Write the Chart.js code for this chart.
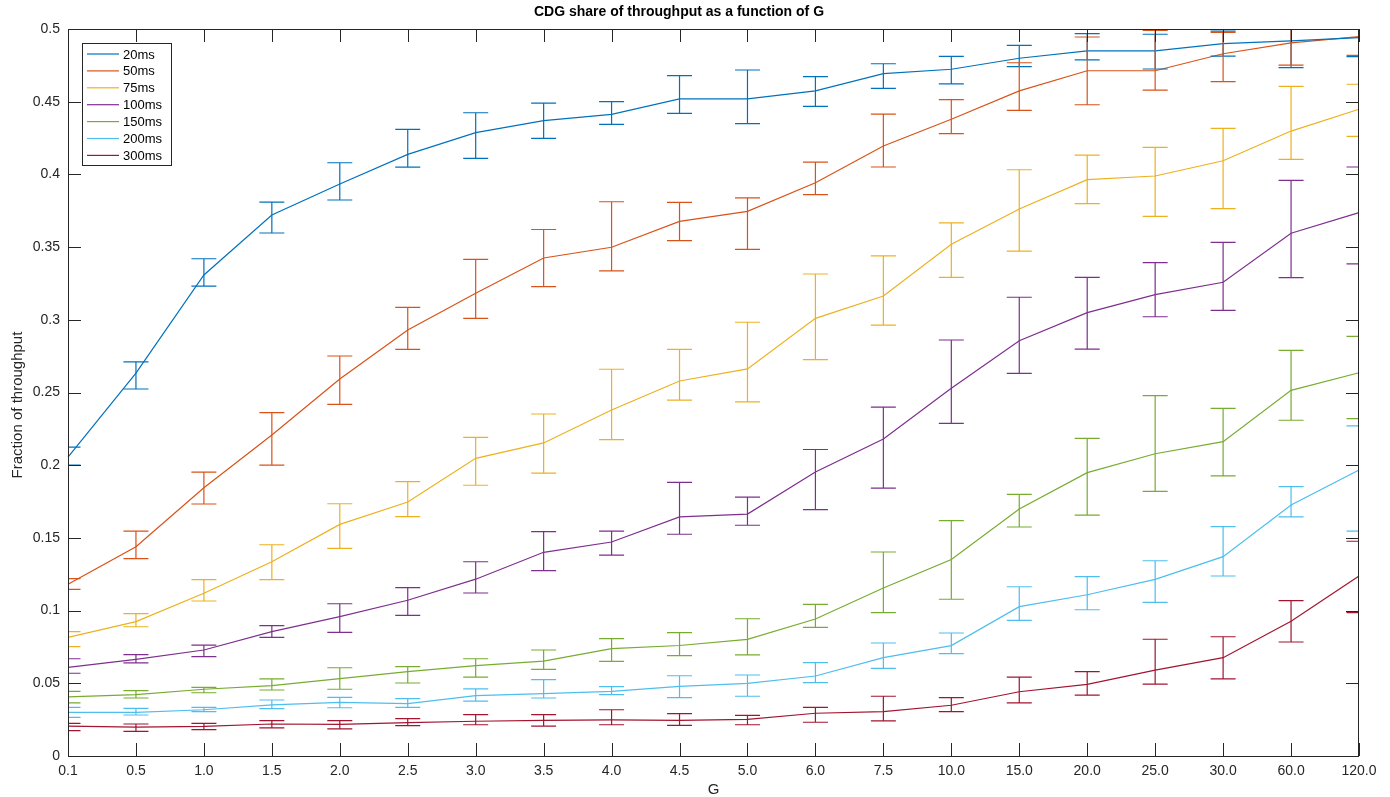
<!DOCTYPE html>
<html lang="en">
<head>
    <meta charset="UTF-8">
    <title>CDG share of throughput</title>
    <script src="https://cdn.jsdelivr.net/npm/chart.js"></script>
    <style>
        body {
            margin: 0;
            background: #ffffff;
        }
        canvas {
            display: block;
        }
    </style>
</head>
<body>
    <canvas id="cdg-chart" width="1390" height="797"></canvas>

    <script>
        // G values on the x axis
        const gLabels = ["0.1", "0.5", "1.0", "1.5", "2.0", "2.5", "3.0", "3.5", "4.0", "4.5",
                         "5.0", "6.0", "7.5", "10.0", "15.0", "20.0", "25.0", "30.0", "60.0", "120.0"];
        const yTicks = [0, 0.05, 0.1, 0.15, 0.2, 0.25, 0.3, 0.35, 0.4, 0.45, 0.5];

        const seriesNames = ["20ms", "50ms", "75ms", "100ms", "150ms", "200ms", "300ms"];

        const ms20 = [0.2056, 0.2634, 0.3308, 0.3721, 0.3934, 0.4138, 0.4287, 0.4370, 0.4413, 0.4519, 0.4519, 0.4574, 0.4693, 0.4723, 0.4799, 0.4849, 0.4849, 0.4899, 0.4919, 0.4940];
        const ms20Lo = [0.2001, 0.2524, 0.3232, 0.3597, 0.3824, 0.4050, 0.4110, 0.4248, 0.4344, 0.4420, 0.4349, 0.4468, 0.4592, 0.4622, 0.4741, 0.4787, 0.4725, 0.4814, 0.4734, 0.4810];
        const ms20Hi = [0.2125, 0.2710, 0.3420, 0.3810, 0.4080, 0.4310, 0.4424, 0.4490, 0.4500, 0.4679, 0.4718, 0.4672, 0.4761, 0.4812, 0.4888, 0.4968, 0.4964, 0.4985, 0.5100, 0.5070];

        const ms50 = [0.1181, 0.1439, 0.1845, 0.2208, 0.2593, 0.2930, 0.3182, 0.3425, 0.3499, 0.3677, 0.3746, 0.3943, 0.4195, 0.4379, 0.4574, 0.4713, 0.4713, 0.4830, 0.4904, 0.4947];
        const ms50Lo = [0.1146, 0.1357, 0.1733, 0.2001, 0.2419, 0.2797, 0.3010, 0.3228, 0.3336, 0.3544, 0.3485, 0.3861, 0.4051, 0.4280, 0.4440, 0.4479, 0.4579, 0.4638, 0.4752, 0.4819];
        const ms50Hi = [0.1220, 0.1547, 0.1953, 0.2361, 0.2751, 0.3086, 0.3416, 0.3621, 0.3812, 0.3808, 0.3838, 0.4085, 0.4415, 0.4514, 0.4768, 0.4945, 0.4991, 0.4977, 0.5060, 0.5080];

        const ms75 = [0.0816, 0.0924, 0.1119, 0.1336, 0.1593, 0.1747, 0.2047, 0.2153, 0.2380, 0.2579, 0.2662, 0.3010, 0.3164, 0.3519, 0.3762, 0.3964, 0.3989, 0.4094, 0.4298, 0.4448];
        const ms75Lo = [0.0752, 0.0889, 0.1066, 0.1213, 0.1428, 0.1646, 0.1862, 0.1946, 0.2176, 0.2448, 0.2435, 0.2726, 0.2964, 0.3292, 0.3473, 0.3799, 0.3712, 0.3764, 0.4104, 0.4262];
        const ms75Hi = [0.0855, 0.0979, 0.1213, 0.1453, 0.1735, 0.1887, 0.2192, 0.2352, 0.2660, 0.2797, 0.2983, 0.3315, 0.3440, 0.3666, 0.4032, 0.4133, 0.4186, 0.4317, 0.4606, 0.4620];

        const ms100 = [0.0610, 0.0665, 0.0729, 0.0855, 0.0958, 0.1071, 0.1216, 0.1401, 0.1472, 0.1644, 0.1664, 0.1953, 0.2180, 0.2529, 0.2856, 0.3049, 0.3173, 0.3258, 0.3595, 0.3737];
        const ms100Lo = [0.0569, 0.0640, 0.0683, 0.0816, 0.0850, 0.0967, 0.1121, 0.1275, 0.1382, 0.1525, 0.1587, 0.1694, 0.1843, 0.2288, 0.2632, 0.2799, 0.3021, 0.3065, 0.3290, 0.3384];
        const ms100Hi = [0.0669, 0.0697, 0.0763, 0.0896, 0.1047, 0.1158, 0.1336, 0.1543, 0.1547, 0.1882, 0.1781, 0.2108, 0.2400, 0.2861, 0.3155, 0.3292, 0.3393, 0.3533, 0.3959, 0.4051];

        const ms150 = [0.0406, 0.0422, 0.0459, 0.0484, 0.0532, 0.0580, 0.0621, 0.0653, 0.0738, 0.0760, 0.0802, 0.0942, 0.1155, 0.1351, 0.1699, 0.1949, 0.2079, 0.2162, 0.2515, 0.2636];
        const ms150Lo = [0.0365, 0.0399, 0.0435, 0.0454, 0.0459, 0.0502, 0.0543, 0.0596, 0.0651, 0.0690, 0.0695, 0.0885, 0.0986, 0.1078, 0.1575, 0.1657, 0.1820, 0.1926, 0.2309, 0.2320];
        const ms150Hi = [0.0445, 0.0449, 0.0472, 0.0530, 0.0607, 0.0614, 0.0669, 0.0729, 0.0807, 0.0848, 0.0944, 0.1043, 0.1403, 0.1619, 0.1800, 0.2185, 0.2478, 0.2391, 0.2790, 0.2886];

        const ms200 = [0.0300, 0.0300, 0.0318, 0.0351, 0.0369, 0.0360, 0.0415, 0.0429, 0.0445, 0.0479, 0.0500, 0.0550, 0.0676, 0.0759, 0.1027, 0.1109, 0.1215, 0.1371, 0.1726, 0.1967];
        const ms200Lo = [0.0266, 0.0282, 0.0305, 0.0326, 0.0332, 0.0335, 0.0378, 0.0399, 0.0422, 0.0401, 0.0411, 0.0504, 0.0603, 0.0704, 0.0933, 0.1006, 0.1057, 0.1238, 0.1644, 0.1547];
        const ms200Hi = [0.0335, 0.0328, 0.0335, 0.0385, 0.0403, 0.0394, 0.0461, 0.0525, 0.0477, 0.0552, 0.0557, 0.0642, 0.0777, 0.0846, 0.1164, 0.1233, 0.1343, 0.1577, 0.1852, 0.2270];

        const ms300 = [0.0206, 0.0199, 0.0204, 0.0220, 0.0218, 0.0229, 0.0239, 0.0245, 0.0248, 0.0245, 0.0252, 0.0294, 0.0305, 0.0349, 0.0442, 0.0493, 0.0591, 0.0676, 0.0926, 0.1238];
        const ms300Lo = [0.0174, 0.0170, 0.0181, 0.0193, 0.0186, 0.0209, 0.0215, 0.0206, 0.0215, 0.0211, 0.0215, 0.0232, 0.0241, 0.0305, 0.0365, 0.0419, 0.0495, 0.0530, 0.0784, 0.0986];
        const ms300Hi = [0.0225, 0.0220, 0.0225, 0.0243, 0.0243, 0.0257, 0.0284, 0.0284, 0.0318, 0.0291, 0.0280, 0.0335, 0.0411, 0.0401, 0.0543, 0.0580, 0.0803, 0.0820, 0.1068, 0.1477];

        // matlab default line colours
        const colors = ["#0072BD", "#D95319", "#EDB120", "#7E2F8E", "#77AC30", "#4DBEEE", "#A2142F"];

        const means = [ms20, ms50, ms75, ms100, ms150, ms200, ms300];
        const lows = [ms20Lo, ms50Lo, ms75Lo, ms100Lo, ms150Lo, ms200Lo, ms300Lo];
        const highs = [ms20Hi, ms50Hi, ms75Hi, ms100Hi, ms150Hi, ms200Hi, ms300Hi];

        const axisColor = "#262626";
        const fontFamily = "'Liberation Sans', Arial, Helvetica, sans-serif";

        // error bars with caps, clipped to the axes box
        const errorBars = {
            id: "errorBars",
            afterDatasetsDraw(chart) {
                const { ctx, chartArea: a, scales } = chart;
                ctx.save();
                ctx.beginPath();
                ctx.rect(a.left, a.top, a.right - a.left, a.bottom - a.top);
                ctx.clip();
                chart.data.datasets.forEach(ds => {
                    ctx.strokeStyle = ds.borderColor;
                    ctx.lineWidth = 1.2;
                    ds.errLo.forEach((lo, i) => {
                        const px = scales.x.getPixelForValue(i);
                        const yLo = scales.y.getPixelForValue(lo);
                        const yHi = scales.y.getPixelForValue(ds.errHi[i]);
                        ctx.beginPath();
                        ctx.moveTo(px, yLo);
                        ctx.lineTo(px, yHi);
                        ctx.moveTo(px - 12.5, yLo);
                        ctx.lineTo(px + 12.5, yLo);
                        ctx.moveTo(px - 12.5, yHi);
                        ctx.lineTo(px + 12.5, yHi);
                        ctx.stroke();
                    });
                });
                ctx.restore();
            }
        };

        // box, inward ticks, titles and the legend drawn matlab style
        const matlabFrame = {
            id: "matlabFrame",
            afterDraw(chart) {
                const { ctx, chartArea: a, scales } = chart;
                ctx.save();
                ctx.strokeStyle = axisColor;
                ctx.lineWidth = 1;
                ctx.strokeRect(a.left + 0.5, a.top + 0.5, a.right - a.left - 1, a.bottom - a.top);

                const tl = 13;
                ctx.beginPath();
                scales.x.ticks.forEach((t, i) => {
                    const px = Math.round(scales.x.getPixelForTick(i)) + 0.5;
                    ctx.moveTo(px, a.bottom);
                    ctx.lineTo(px, a.bottom - tl);
                    ctx.moveTo(px, a.top);
                    ctx.lineTo(px, a.top + tl);
                });
                scales.y.ticks.forEach((t, i) => {
                    const py = Math.round(scales.y.getPixelForTick(i)) + 0.5;
                    ctx.moveTo(a.left, py);
                    ctx.lineTo(a.left + tl, py);
                    ctx.moveTo(a.right, py);
                    ctx.lineTo(a.right - tl, py);
                });
                ctx.stroke();

                // title and axis labels
                ctx.fillStyle = "#000000";
                ctx.textAlign = "center";
                ctx.textBaseline = "middle";
                ctx.font = "bold 14px " + fontFamily;
                ctx.fillText("CDG share of throughput as a function of G", 679, 12);

                ctx.fillStyle = axisColor;
                ctx.font = "15px " + fontFamily;
                ctx.fillText("G", (a.left + a.right) / 2, 790);
                ctx.save();
                ctx.translate(18, 405);
                ctx.rotate(-Math.PI / 2);
                ctx.fillText("Fraction of throughput", 0, 0);
                ctx.restore();

                // legend box
                const lx = 82, ly = 43, lw = 89, lh = 122;
                ctx.fillStyle = "#ffffff";
                ctx.fillRect(lx, ly, lw, lh);
                ctx.strokeStyle = axisColor;
                ctx.strokeRect(lx + 0.5, ly + 0.5, lw, lh);
                ctx.font = "13px " + fontFamily;
                ctx.textAlign = "left";
                chart.data.datasets.forEach((ds, i) => {
                    const ry = 54 + i * 16.9;
                    ctx.strokeStyle = ds.borderColor;
                    ctx.lineWidth = 1.2;
                    ctx.beginPath();
                    ctx.moveTo(87, ry);
                    ctx.lineTo(119, ry);
                    ctx.stroke();
                    ctx.fillStyle = "#000000";
                    ctx.fillText(ds.label, 123, ry + 1);
                });
                ctx.restore();
            }
        };

        const ctx = document.getElementById("cdg-chart").getContext("2d");

        new Chart(ctx, {
            type: "line",
            data: {
                labels: gLabels,
                datasets: seriesNames.map((name, i) => ({
                    label: name,
                    data: means[i],
                    errLo: lows[i],
                    errHi: highs[i],
                    borderColor: colors[i],
                    backgroundColor: colors[i],
                    borderWidth: 1.2,
                    pointRadius: 0,
                    tension: 0,
                    fill: false
                }))
            },
            options: {
                responsive: false,
                animation: false,
                devicePixelRatio: 1,
                layout: {
                    padding: { left: 0, top: 29, right: 31, bottom: 0 }
                },
                scales: {
                    x: {
                        type: "category",
                        offset: false,
                        grid: { display: false, drawTicks: false },
                        border: { display: false },
                        ticks: {
                            autoSkip: false,
                            maxRotation: 0,
                            padding: 7,
                            color: axisColor,
                            font: { family: fontFamily, size: 14 }
                        },
                        afterFit(scale) {
                            scale.height = 41;
                        }
                    },
                    y: {
                        min: 0,
                        max: 0.5,
                        grid: { display: false, drawTicks: false },
                        border: { display: false },
                        afterBuildTicks(scale) {
                            scale.ticks = yTicks.map(v => ({ value: v }));
                        },
                        ticks: {
                            padding: 8,
                            color: axisColor,
                            font: { family: fontFamily, size: 14 },
                            callback: v => String(+v.toFixed(2))
                        },
                        afterFit(scale) {
                            scale.width = 68;
                        }
                    }
                },
                plugins: {
                    legend: { display: false },
                    title: { display: false },
                    tooltip: { enabled: false }
                }
            },
            plugins: [errorBars, matlabFrame]
        });
    </script>
</body>
</html>
